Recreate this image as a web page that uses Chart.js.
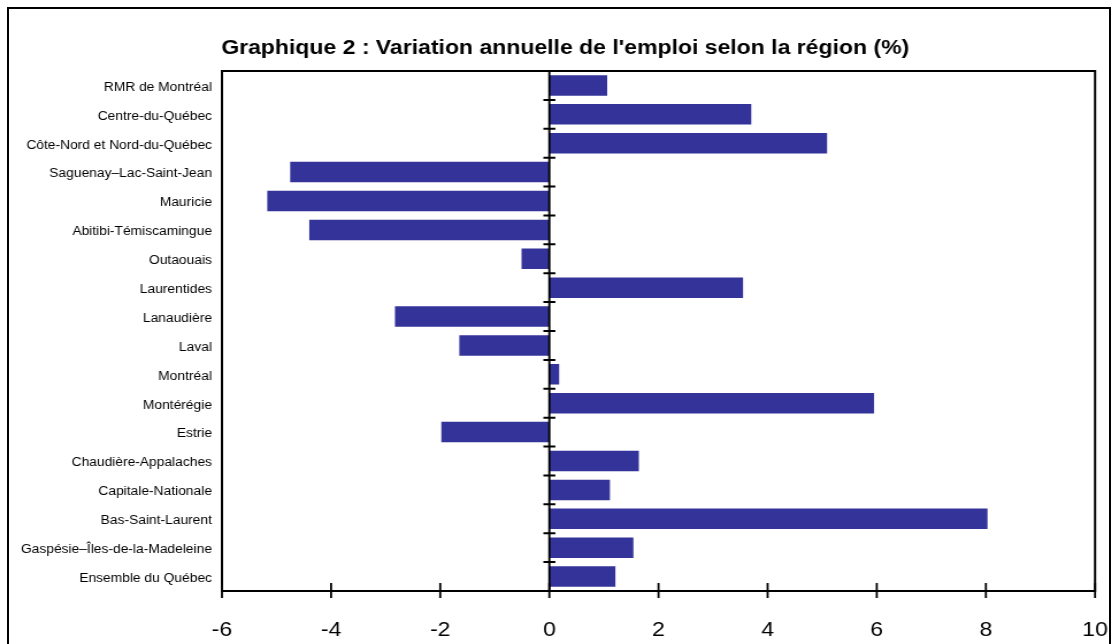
<!DOCTYPE html>
<html>
<head>
<meta charset="utf-8">
<script src="https://cdn.jsdelivr.net/npm/chart.js@4"></script>
<style>
html,body{margin:0;padding:0;background:#fff;overflow:hidden;}
#wrap{position:relative;width:1112px;height:644px;overflow:hidden;}
#frame{position:absolute;left:7px;top:7px;width:1100px;height:700px;border:2px solid #000;pointer-events:none;}
canvas{position:absolute;left:0;top:0;transform-origin:0 0;transform:scaleX(1.15);}
</style>
</head>
<body>
<div id="wrap">
<canvas id="c" width="983" height="644"></canvas>
<div id="frame"></div>
</div>
<script>
const categories = [
  "RMR de Montréal",
  "Centre-du-Québec",
  "Côte-Nord et Nord-du-Québec",
  "Saguenay–Lac-Saint-Jean",
  "Mauricie",
  "Abitibi-Témiscamingue",
  "Outaouais",
  "Laurentides",
  "Lanaudière",
  "Laval",
  "Montréal",
  "Montérégie",
  "Estrie",
  "Chaudière-Appalaches",
  "Capitale-Nationale",
  "Bas-Saint-Laurent",
  "Gaspésie–Îles-de-la-Madeleine",
  "Ensemble du Québec"
];
const values = [1.06, 3.70, 5.09, -4.75, -5.17, -4.40, -0.51, 3.55, -2.83, -1.65, 0.18, 5.95, -1.98, 1.64, 1.11, 8.03, 1.54, 1.21];
const xMin = -6;
const xMax = 10;
const xStep = 2;
const titleText = "Graphique 2 : Variation annuelle de l'emploi selon la région (%)";

const FONT = "'Liberation Sans', Arial, sans-serif";

const decor = {
  id: 'decor',
  afterDatasetsDraw(chart) {
    const {ctx, chartArea: a, scales: {x, y}} = chart;
    ctx.save();
    ctx.strokeStyle = '#000';
    ctx.lineWidth = 2;
    ctx.strokeRect(a.left, a.top, a.right - a.left, a.bottom - a.top);
    const x0 = x.getPixelForValue(0);
    ctx.lineWidth = 1.9;
    ctx.beginPath();
    ctx.moveTo(x0, a.top);
    ctx.lineTo(x0, a.bottom);
    ctx.stroke();
    ctx.lineWidth = 2;
    const n = categories.length;
    ctx.beginPath();
    for (let i = 0; i <= n; i++) {
      let yy;
      if (i === 0) yy = a.top;
      else if (i === n) yy = a.bottom;
      else yy = (y.getPixelForValue(i - 1) + y.getPixelForValue(i)) / 2;
      ctx.moveTo(x0 - 5.2, yy);
      ctx.lineTo(x0 + 5.2, yy);
    }
    ctx.stroke();
    ctx.lineWidth = 1.8;
    ctx.beginPath();
    x.ticks.forEach(t => {
      const xx = x.getPixelForValue(t.value);
      ctx.moveTo(xx, a.bottom - 8);
      ctx.lineTo(xx, a.bottom + 7);
    });
    ctx.stroke();
    ctx.restore();
  }
};

new Chart(document.getElementById('c'), {
  type: 'bar',
  data: {
    labels: categories,
    datasets: [{
      data: values,
      backgroundColor: '#333399',
      borderWidth: 0,
      barPercentage: 0.71,
      categoryPercentage: 1.0
    }]
  },
  options: {
    indexAxis: 'y',
    responsive: false,
    animation: false,
    devicePixelRatio: 1,
    layout: { padding: { left: 0, right: 0, top: 0, bottom: 0 } },
    plugins: {
      legend: { display: false },
      tooltip: { enabled: false },
      title: {
        display: true,
        text: titleText,
        color: '#000',
        font: { family: FONT, size: 20, weight: 'bold', lineHeight: 1.2 },
        padding: { top: 36, bottom: 11 }
      }
    },
    scales: {
      x: {
        type: 'linear',
        min: xMin,
        max: xMax,
        grid: { display: false, drawTicks: false },
        border: { display: false },
        afterFit(scale) { scale.height = 53; scale.paddingLeft = 0; scale.paddingRight = 0; },
        ticks: {
          stepSize: xStep,
          color: '#000',
          padding: 27,
          font: { family: FONT, size: 20, lineHeight: 1.2 }
        }
      },
      y: {
        type: 'category',
        offset: true,
        grid: { display: false, drawTicks: false },
        border: { display: false },
        afterFit(scale) { scale.width = 193; scale.paddingTop = 0; scale.paddingBottom = 0; },
        ticks: {
          color: '#000',
          padding: 8.7,
          labelOffset: 2,
          autoSkip: false,
          font: { family: FONT, size: 12 }
        }
      },
      yRight: {
        type: 'category',
        position: 'right',
        display: true,
        grid: { display: false, drawTicks: false },
        border: { display: false },
        ticks: { display: false },
        afterFit(scale) { scale.width = 30.8; scale.paddingTop = 0; scale.paddingBottom = 0; }
      }
    }
  },
  plugins: [decor]
});
</script>
</body>
</html>
